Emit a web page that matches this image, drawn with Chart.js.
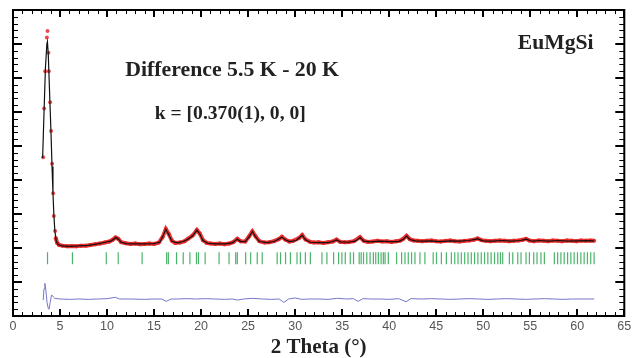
<!DOCTYPE html>
<html>
<head>
<meta charset="utf-8">
<script src="https://cdn.jsdelivr.net/npm/chart.js@4.4.1/dist/chart.umd.min.js"></script>
<style>
  body { margin: 0; background: #fff; }
</style>
</head>
<body>
<canvas id="diffChart" width="636" height="358"></canvas>
<script>
// observed points on the big low-angle peak (drawn as dots only)
const peakTheta = [3.21, 3.31, 3.42, 3.60, 3.67, 3.77, 3.81, 3.95, 4.05, 4.16, 4.27, 4.34, 4.48, 4.55];
const peakObs = [4.67, 6.10, 7.20, 8.19, 8.38, 7.74, 7.20, 6.29, 5.44, 4.48, 3.61, 2.94, 2.50, 2.29];

// observed points, rest of the pattern
const obsTheta = [4.55, 4.7, 4.9, 5.25, 5.75, 6.25, 6.75, 7.25, 7.75, 8.25, 8.75, 9.25, 9.75, 10.25, 10.6, 10.9, 11.2, 11.5,
  12, 12.5, 13, 13.5, 14, 14.5, 15, 15.5, 15.9, 16.25, 16.55, 16.9, 17.25, 17.75, 18.25, 18.6, 19.1, 19.55, 19.85, 20.2,
  20.6, 21, 21.5, 22, 22.5, 23, 23.4, 23.85, 24.2, 24.7, 25.1, 25.45, 25.8, 26.2, 26.75, 27.25, 27.75, 28.25, 28.6, 28.95,
  29.4, 29.8, 30.4, 30.75, 31.1, 31.6, 32, 32.5, 33, 33.5, 34, 34.4, 34.8, 35.25, 35.75, 36.25, 36.9, 37.3, 37.75, 38.25,
  38.75, 39.25, 39.75, 40.25, 40.75, 41.2, 41.5, 41.85, 42.2, 42.6, 43, 43.5, 44, 44.5, 45, 45.5, 46, 46.5, 47, 47.5, 48,
  48.5, 49, 49.4, 49.8, 50.25, 50.75, 51.25, 51.75, 52.25, 52.75, 53.25, 53.75, 54.2, 54.55, 54.9, 55.4, 55.9, 56.4, 56.9,
  57.4, 57.9, 58.4, 58.9, 59.4, 59.9, 60.4, 60.9, 61.4, 61.8];
const obsCounts = [2.29, 2.15, 2.09, 2.07, 2.05, 2.06, 2.05, 2.07, 2.07, 2.09, 2.11, 2.13, 2.16, 2.19, 2.24, 2.31, 2.27, 2.17,
  2.14, 2.12, 2.13, 2.11, 2.12, 2.13, 2.12, 2.16, 2.32, 2.56, 2.42, 2.21, 2.15, 2.16, 2.20, 2.27, 2.37, 2.53, 2.43, 2.23,
  2.15, 2.13, 2.12, 2.13, 2.11, 2.13, 2.17, 2.27, 2.20, 2.19, 2.34, 2.49, 2.34, 2.20, 2.16, 2.17, 2.20, 2.26, 2.33, 2.25,
  2.19, 2.21, 2.29, 2.38, 2.25, 2.18, 2.16, 2.17, 2.15, 2.17, 2.19, 2.25, 2.18, 2.17, 2.18, 2.20, 2.32, 2.21, 2.18, 2.19,
  2.21, 2.19, 2.20, 2.18, 2.20, 2.22, 2.27, 2.36, 2.26, 2.22, 2.21, 2.20, 2.21, 2.22, 2.20, 2.19, 2.21, 2.22, 2.20, 2.19, 2.21,
  2.22, 2.24, 2.28, 2.23, 2.21, 2.20, 2.21, 2.22, 2.21, 2.20, 2.21, 2.22, 2.24, 2.27, 2.22, 2.20, 2.22, 2.21, 2.20,
  2.22, 2.21, 2.20, 2.22, 2.21, 2.20, 2.22, 2.21, 2.22, 2.21];

// calculated profile
const calcTheta = [3.15, 3.3, 3.45, 3.6, 3.66, 3.75, 3.85, 3.95, 4.05, 4.15, 4.25, 4.35, 4.45, 4.6, 4.8, 5.2, 6, 7, 8, 9,
  9.8, 10.4, 10.7, 10.95, 11.2, 11.5, 12, 13, 14, 15, 15.6, 15.95, 16.25, 16.55, 16.9, 17.5, 18.1, 18.6, 19.1, 19.55, 19.85,
  20.2, 20.7, 21.5, 22.5, 23.3, 23.85, 24.2, 24.7, 25.1, 25.45, 25.8, 26.2, 27, 27.8, 28.3, 28.6, 28.95, 29.4, 30.1, 30.45,
  30.75, 31.1, 31.6, 32.5, 33.5, 34, 34.4, 34.8, 35.6, 36.4, 36.9, 37.3, 38, 39, 40, 41, 41.5, 41.85, 42.2, 42.8, 43.5,
  44.5, 45.3, 46.5, 47.5, 48.5, 49.4, 50, 51, 52, 53, 54, 54.55, 55.2, 56, 57, 58, 59, 60, 61, 61.8];
const calcCounts = [4.65, 6.0, 7.3, 8.0, 8.07, 7.7, 6.9, 6.1, 5.3, 4.4, 3.6, 2.95, 2.5, 2.2, 2.1, 2.06, 2.05, 2.06, 2.08, 2.12,
  2.17, 2.2, 2.26, 2.31, 2.26, 2.17, 2.13, 2.12, 2.12, 2.13, 2.17, 2.35, 2.55, 2.4, 2.2, 2.15, 2.19, 2.26, 2.36, 2.52, 2.42,
  2.22, 2.14, 2.12, 2.12, 2.15, 2.26, 2.19, 2.19, 2.33, 2.48, 2.33, 2.19, 2.16, 2.19, 2.27, 2.32, 2.24, 2.19, 2.22, 2.3,
  2.37, 2.24, 2.17, 2.16, 2.16, 2.19, 2.24, 2.18, 2.17, 2.2, 2.31, 2.2, 2.18, 2.2, 2.19, 2.19, 2.26, 2.35, 2.25, 2.21, 2.2,
  2.21, 2.19, 2.21, 2.2, 2.22, 2.27, 2.21, 2.2, 2.22, 2.2, 2.22, 2.26, 2.2, 2.22, 2.2, 2.22, 2.2, 2.21, 2.22, 2.21];

// obs - calc difference curve
const diffTheta = [3.21, 3.3, 3.39, 3.5, 3.62, 3.75, 3.84, 3.95, 4.1, 4.3, 4.45, 5, 6, 7, 8, 9, 10, 10.9, 11.3, 12.5, 14, 15,
  15.8, 16.3, 16.8, 17.5, 18.5, 19.5, 20.5, 21.5, 22.5, 23.3, 23.9, 24.5, 25.5, 26.5, 27.5, 28.3, 28.8, 29.3, 30, 30.7, 31.5,
  32.5, 33.5, 34.5, 35.5, 36.2, 36.7, 37.2, 38, 39, 40, 41, 41.8, 42.3, 43.5, 44.5, 45.5, 46.5, 47.5, 48.5, 49.5, 50.5,
  51.5, 52.5, 53.5, 54.5, 55.5, 56.5, 57.5, 58.5, 59.5, 60.5, 61.8];
const diffCounts = [0.47, 0.8, 0.96, 0.75, 0.4, 0.22, 0.2, 0.4, 0.62, 0.56, 0.52, 0.5, 0.49, 0.5, 0.49, 0.5, 0.51, 0.55, 0.5,
  0.5, 0.49, 0.5, 0.5, 0.43, 0.5, 0.5, 0.51, 0.5, 0.51, 0.5, 0.49, 0.5, 0.47, 0.5, 0.52, 0.5, 0.49, 0.5, 0.4, 0.5, 0.53,
  0.49, 0.5, 0.5, 0.49, 0.52, 0.5, 0.51, 0.43, 0.51, 0.5, 0.5, 0.49, 0.51, 0.42, 0.51, 0.5, 0.51, 0.5, 0.49, 0.5, 0.51,
  0.5, 0.49, 0.5, 0.51, 0.5, 0.49, 0.5, 0.51, 0.5, 0.49, 0.5, 0.5, 0.5];

// magnetic reflection positions
const braggTheta = [3.67, 6.32, 9.92, 11.19, 13.73, 16.34, 16.52, 17.39, 18.1, 18.81, 19.51, 19.72, 20.43, 21.91, 22.97,
  23.68, 23.85, 24.74, 25.27, 25.97, 26.5, 28.09, 28.45, 28.98, 29.5, 30.2, 30.56, 31.09, 31.62, 32.85, 33.38, 34.09,
  34.62, 34.97, 35.33, 35.86, 36.21, 36.81, 37.02, 37.27, 37.62, 37.97, 38.32, 38.57, 38.85, 39.14, 39.38, 39.56, 39.91,
  40.79, 41.32, 41.68, 42.03, 42.38, 42.74, 43.27, 43.8, 44.68, 45.03, 45.55, 46.08, 46.61, 46.97, 47.32, 47.67, 48.03,
  48.38, 48.73, 49.08, 49.43, 49.79, 50.14, 50.49, 50.84, 51.2, 51.55, 51.83, 52.07, 52.78, 53.14, 53.67, 54.02, 54.55,
  54.91, 55.37, 55.72, 56.14, 56.5, 57.56, 57.91, 58.26, 58.61, 58.97, 59.32, 59.67, 60.02, 60.38, 60.73, 61.08, 61.43, 61.79];
const braggLevel = 1.7;

const xTicks = [0, 5, 10, 15, 20, 25, 30, 35, 40, 45, 50, 55, 60, 65];

function pairs(xs, ys) {
    return xs.map((x, i) => ({ x: x, y: ys[i] }));
}

// frame with inward ticks + the text notes
const framePlugin = {
    id: "frame",
    afterDraw(chart) {
        const { ctx, chartArea: a, scales } = chart;
        const xs = scales.x, ys = scales.y;
        ctx.save();
        ctx.strokeStyle = "#000";
        // minor ticks
        ctx.lineWidth = 1;
        ctx.beginPath();
        for (let v = 0; v <= 65; v++) {
            if (v % 5 === 0) continue;
            const px = Math.round(xs.getPixelForValue(v)) + 0.5;
            ctx.moveTo(px, a.bottom); ctx.lineTo(px, a.bottom - 4);
            ctx.moveTo(px, a.top); ctx.lineTo(px, a.top + 4);
        }
        for (let k = 0; k <= 45; k++) {
            if (k % 5 === 0) continue;
            const py = Math.round(ys.getPixelForValue(k / 5)) + 0.5;
            ctx.moveTo(a.left, py); ctx.lineTo(a.left + 5, py);
            ctx.moveTo(a.right, py); ctx.lineTo(a.right - 5, py);
        }
        ctx.stroke();
        // major ticks
        ctx.lineWidth = 2;
        ctx.beginPath();
        xTicks.forEach(v => {
            const px = Math.round(xs.getPixelForValue(v));
            ctx.moveTo(px, a.bottom); ctx.lineTo(px, a.bottom - 7);
            ctx.moveTo(px, a.top); ctx.lineTo(px, a.top + 7);
        });
        for (let k = 1; k < 9; k++) {
            const py = Math.round(ys.getPixelForValue(k));
            ctx.moveTo(a.left, py); ctx.lineTo(a.left + 9, py);
            ctx.moveTo(a.right, py); ctx.lineTo(a.right - 9, py);
        }
        ctx.stroke();
        ctx.lineWidth = 2;
        ctx.strokeRect(a.left, a.top, a.right - a.left, a.bottom - a.top);

        // notes
        ctx.fillStyle = "#222";
        ctx.textAlign = "center";
        ctx.textBaseline = "middle";
        ctx.font = "bold 21.8px 'Liberation Serif', 'Times New Roman', serif";
        ctx.fillText("Difference 5.5 K - 20 K", xs.getPixelForValue(23.3), ys.getPixelForValue(7.23));
        ctx.font = "bold 19.6px 'Liberation Serif', 'Times New Roman', serif";
        ctx.fillText("k = [0.370(1), 0, 0]", xs.getPixelForValue(23.1), ys.getPixelForValue(5.95));
        ctx.font = "bold 21.6px 'Liberation Serif', 'Times New Roman', serif";
        ctx.fillText("EuMgSi", xs.getPixelForValue(57.7), ys.getPixelForValue(8.03));
        ctx.restore();
    },
};

const ctx = document.getElementById("diffChart").getContext("2d");
new Chart(ctx, {
    type: "scatter",
    data: {
        datasets: [
            {
                label: "Calc",
                data: pairs(calcTheta, calcCounts),
                showLine: true,
                borderColor: "#111",
                borderWidth: 1.2,
                pointRadius: 0,
                order: 0,
            },
            {
                label: "Obs (peak)",
                data: pairs(peakTheta, peakObs),
                backgroundColor: "rgba(235,45,45,0.85)",
                borderWidth: 0,
                pointRadius: 2,
                order: 1,
            },
            {
                label: "Obs",
                data: pairs(obsTheta, obsCounts),
                showLine: true,
                borderColor: "rgba(232,35,35,0.9)",
                borderWidth: 4,
                backgroundColor: "rgba(232,35,35,0.9)",
                pointRadius: 2,
                pointBorderWidth: 0,
                order: 2,
            },
            {
                label: "Obs-Calc",
                data: pairs(diffTheta, diffCounts),
                showLine: true,
                borderColor: "#7676c8",
                borderWidth: 1,
                pointRadius: 0,
                order: 3,
            },
            {
                label: "Bragg",
                data: braggTheta.map(t => ({ x: t, y: braggLevel })),
                pointStyle: "line",
                rotation: 90,
                pointRadius: 6,
                borderColor: "rgba(30,160,70,0.8)",
                borderWidth: 1.2,
                order: 4,
            },
        ],
    },
    options: {
        responsive: false,
        animation: false,
        layout: { padding: { left: 13, right: 9, top: 10, bottom: 0 } },
        plugins: {
            legend: { display: false },
            tooltip: { enabled: false },
        },
        scales: {
            x: {
                type: "linear",
                min: 0,
                max: 65,
                afterBuildTicks: axis => { axis.ticks = xTicks.map(v => ({ value: v })); },
                grid: { display: false, drawTicks: false },
                border: { display: false },
                ticks: {
                    padding: 4.75,
                    color: "#555",
                    font: { family: "'Liberation Sans', Arial, sans-serif", size: 12.5, lineHeight: 1 },
                },
                title: {
                    display: true,
                    text: "2 Theta (°)",
                    color: "#222",
                    padding: 0,
                    font: { family: "'Liberation Serif', 'Times New Roman', serif", size: 21, weight: "bold", lineHeight: 0.952 },
                },
            },
            y: {
                display: false,
                min: 0,
                max: 9,
            },
        },
    },
    plugins: [framePlugin],
});
</script>
</body>
</html>
